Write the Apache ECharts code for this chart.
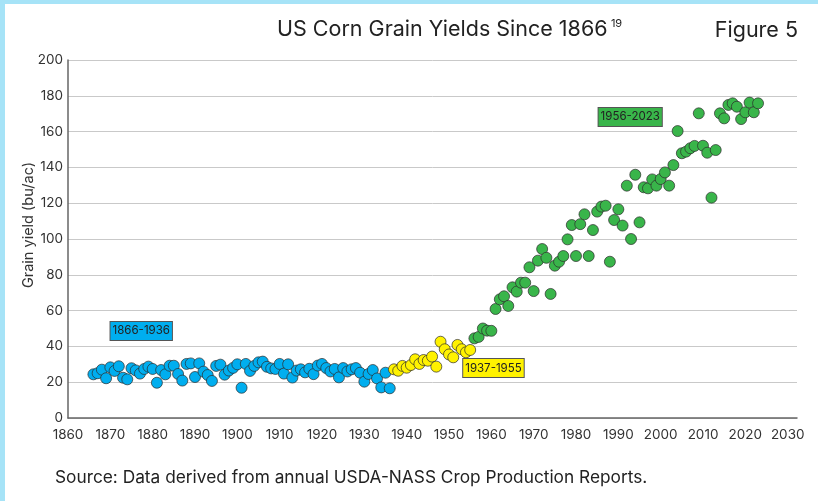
<!DOCTYPE html>
<html>
<head>
<meta charset="utf-8">
<script src="https://cdn.jsdelivr.net/npm/echarts@6/dist/echarts.min.js"></script>
<style>
html,body{margin:0;padding:0;background:#fff;}
#chart{width:818px;height:501px;}
</style>
</head>
<body>
<div id="chart"></div>
<script>
// Period 1: 1866-1936
const startEarly = 1866;
const yieldEarly = [
  24.4, 25.0, 27.0, 22.2, 28.3, 26.3, 28.9, 22.5, 21.6, 27.8,
  26.6, 24.8, 27.4, 28.7, 27.4, 19.7, 26.8, 24.4, 29.2, 29.2,
  24.6, 20.9, 30.2, 30.5, 22.9, 30.5, 25.9, 24.0, 20.7, 29.1,
  29.8, 24.2, 26.5, 28.0, 30.0, 16.9, 30.2, 26.3, 29.1, 31.1,
  31.5, 28.6, 27.7, 27.4, 30.2, 24.8, 30.0, 22.6, 26.5, 27.2,
  25.5, 27.5, 24.5, 29.3, 30.2, 27.9, 26.0, 27.4, 22.7, 27.9,
  26.0, 27.2, 27.9, 25.3, 20.3, 24.6, 26.8, 22.1, 17.1, 25.3,
  16.6
];
// Period 2: 1937-1955
const startMid = 1937;
const yieldMid = [
  27.2, 26.4, 29.1, 28.1, 29.6, 32.8, 30.2, 32.4, 32.0, 34.3,
  28.7, 42.6, 38.4, 35.5, 33.9, 40.8, 38.4, 36.7, 38.0
];
// Period 3: 1956-2023
const startLate = 1956;
const yieldLate = [
  44.5, 45.3, 50.0, 48.8, 48.7, 60.9, 66.3, 68.0, 62.6, 73.0,
  70.6, 75.6, 75.6, 84.2, 70.9, 87.9, 94.4, 89.5, 69.3, 85.1,
  87.3, 90.5, 99.8, 107.8, 90.5, 108.3, 113.8, 90.5, 105.0, 115.3,
  118.1, 118.6, 87.3, 110.6, 116.6, 107.5, 129.8, 100.0, 135.9, 109.3,
  128.9, 128.3, 133.3, 129.8, 133.5, 137.2, 129.8, 141.3, 160.3, 147.9,
  148.8, 150.7, 152.0, 170.2, 152.1, 148.2, 123.1, 149.7, 170.2, 167.4,
  174.9, 175.8, 173.9, 167.0, 170.8, 176.2, 170.8, 175.8
];
const periodLabels = ['1866-1936', '1937-1955', '1956-2023'];
const labelAnchors = [[1877.3, 48.6], [1960.5, 27.9], [1992.8, 168.2]];
const xTicks = [1860, 2030, 10];
const yTicks = [0, 200, 20];

const colors = ['#00AEEF', '#FFF200', '#39B54A'];
const FONT = 'Inter';

function pairs(start, vals) { return vals.map((v, i) => [start + i, v]); }

function makeSeries(name, start, vals, color, idx) {
  return {
    name: name,
    type: 'scatter',
    symbol: 'circle',
    symbolSize: 11,
    data: pairs(start, vals),
    itemStyle: { color: color, borderColor: '#2b2b2b', borderWidth: 0.7, opacity: 1 },
    markPoint: {
      symbol: 'rect',
      symbolSize: 0.001,
      silent: true,
      data: [{
        coord: labelAnchors[idx],
        label: {
          show: true,
          formatter: periodLabels[idx],
          position: 'inside',
          color: '#222',
          fontFamily: FONT,
          fontSize: 11.5,
          letterSpacing: -0.4,
          backgroundColor: color,
          borderColor: '#555',
          borderWidth: 1,
          padding: [3, 2, 3, 2]
        }
      }]
    }
  };
}

const chart = echarts.init(document.getElementById('chart'), null, { renderer: 'canvas' });
chart.setOption({
  backgroundColor: '#fff',
  animation: false,
  textStyle: { fontFamily: FONT },
  graphic: [
    { type: 'rect', shape: { x: 0, y: 0, width: 818, height: 4 }, style: { fill: '#A6E3F7' } },
    { type: 'rect', shape: { x: 0, y: 0, width: 5, height: 501 }, style: { fill: '#A6E3F7' } },
    { type: 'text', x: 277, y: 41, style: {
        text: '{a|US Corn Grain Yields Since 1866} {b|19}',
        textVerticalAlign: 'bottom',
        rich: {
          a: { fontFamily: FONT, fontSize: 21.5, fill: '#222', color: '#222', verticalAlign: 'bottom' },
          b: { fontFamily: FONT, fontSize: 11, fill: '#222', color: '#222', verticalAlign: 'top', padding: [0, 0, 12, 0] }
        } } },
    { type: 'text', x: 798, y: 42, style: { text: 'Figure 5', font: '21.5px Inter', fill: '#222', textAlign: 'right', textVerticalAlign: 'bottom' } },
    { type: 'text', x: 55, y: 486, style: { text: 'Source: Data derived from annual USDA-NASS Crop Production Reports.', font: '17.3px Inter', fill: '#222', textVerticalAlign: 'bottom' } },
    { type: 'text', x: 28.5, y: 225, rotation: Math.PI / 2, style: { text: 'Grain yield (bu/ac)', font: '14.5px Inter', fill: '#333', textAlign: 'center', textVerticalAlign: 'middle' } }
  ],
  grid: { left: 68, right: 21, top: 60, bottom: 83, containLabel: false },
  xAxis: {
    type: 'value',
    min: xTicks[0],
    max: 2032.2,
    interval: xTicks[2],
    axisLine: { show: true, onZero: false, lineStyle: { color: '#666', width: 1.5 } },
    axisTick: { show: false },
    splitLine: { show: false },
    axisLabel: {
      color: '#333', fontSize: 13.5, margin: 10, fontFamily: FONT,
      formatter: v => (v <= xTicks[1] && v % 10 === 0) ? String(v) : ''
    }
  },
  yAxis: {
    type: 'value',
    min: yTicks[0],
    max: yTicks[1],
    interval: yTicks[2],
    axisLine: { show: true, lineStyle: { color: '#666', width: 1.5 } },
    axisTick: { show: false },
    splitLine: { show: true, lineStyle: { color: '#c9c9c9', width: 1 } },
    axisLabel: { color: '#333', fontSize: 13.5, margin: 5, fontFamily: FONT }
  },
  series: [
    makeSeries('1866-1936', startEarly, yieldEarly, colors[0], 0),
    makeSeries('1937-1955', startMid, yieldMid, colors[1], 1),
    makeSeries('1956-2023', startLate, yieldLate, colors[2], 2)
  ]
});
</script>
</body>
</html>
